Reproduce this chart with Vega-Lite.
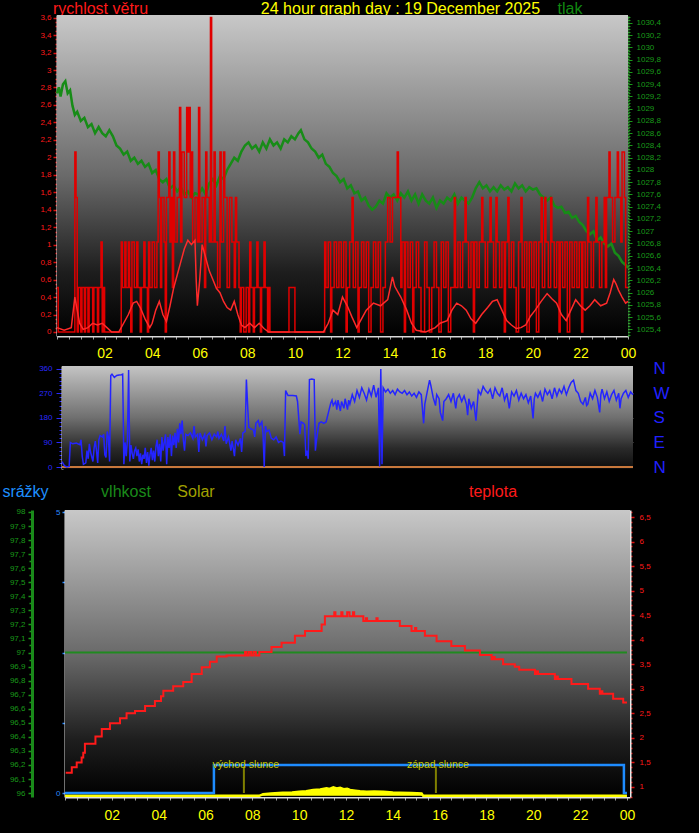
{
"$schema": "https://vega.github.io/schema/vega-lite/v6.json",
"background": "#000000",
"autosize": "none",
"padding": {"left": 57, "top": 15, "right": 642, "bottom": 818},
"bounds": "flush",
"spacing": 30,
"config": {"view": {"stroke": null}, "font": "Liberation Sans", "axis": {"zindex": 1, "labelFont": "Liberation Sans", "titleFont": "Liberation Sans", "titleFontWeight": "normal", "labelOverlap": false, "labelBound": false, "labelFlush": false}},
"datasets": {
"gust": [{"h":0,"v":0.51},{"h":0.05,"v":0},{"h":0.75,"v":2.06},{"h":0.8,"v":1.54},{"h":0.85,"v":0},{"h":0.9,"v":0.51},{"h":1,"v":0},{"h":1.05,"v":0.51},{"h":1.15,"v":0},{"h":1.2,"v":0.51},{"h":1.3,"v":0},{"h":1.35,"v":0.51},{"h":1.5,"v":0},{"h":1.55,"v":0.51},{"h":1.7,"v":0},{"h":1.75,"v":0.51},{"h":1.85,"v":1.03},{"h":1.9,"v":0},{"h":1.95,"v":0.51},{"h":2,"v":0},{"h":2.7,"v":1.03},{"h":2.75,"v":0.51},{"h":2.85,"v":1.03},{"h":2.9,"v":0.51},{"h":3,"v":1.03},{"h":3.05,"v":0.51},{"h":3.1,"v":0},{"h":3.15,"v":1.03},{"h":3.25,"v":0.51},{"h":3.35,"v":1.03},{"h":3.4,"v":0.51},{"h":3.5,"v":0},{"h":3.55,"v":0.51},{"h":3.65,"v":1.03},{"h":3.7,"v":0.51},{"h":3.8,"v":0},{"h":3.85,"v":1.03},{"h":3.9,"v":0.51},{"h":4,"v":1.03},{"h":4.1,"v":0.51},{"h":4.2,"v":1.03},{"h":4.25,"v":2.06},{"h":4.3,"v":1.54},{"h":4.35,"v":0.51},{"h":4.4,"v":1.54},{"h":4.5,"v":1.03},{"h":4.55,"v":0},{"h":4.6,"v":1.54},{"h":4.7,"v":2.06},{"h":4.75,"v":1.03},{"h":4.8,"v":1.54},{"h":4.85,"v":0.51},{"h":4.9,"v":2.06},{"h":4.95,"v":1.03},{"h":5.05,"v":1.54},{"h":5.15,"v":2.57},{"h":5.2,"v":1.03},{"h":5.25,"v":2.06},{"h":5.35,"v":1.54},{"h":5.45,"v":2.57},{"h":5.5,"v":2.06},{"h":5.55,"v":2.57},{"h":5.6,"v":1.54},{"h":5.65,"v":2.06},{"h":5.7,"v":1.03},{"h":5.8,"v":1.54},{"h":5.9,"v":1.03},{"h":5.95,"v":2.57},{"h":6,"v":1.03},{"h":6.1,"v":1.54},{"h":6.2,"v":0.51},{"h":6.25,"v":2.06},{"h":6.3,"v":1.54},{"h":6.4,"v":1.03},{"h":6.45,"v":3.6},{"h":6.5,"v":1.03},{"h":6.6,"v":2.06},{"h":6.65,"v":1.03},{"h":6.75,"v":0.51},{"h":6.85,"v":2.06},{"h":6.9,"v":1.03},{"h":7,"v":2.06},{"h":7.05,"v":1.54},{"h":7.15,"v":0.51},{"h":7.25,"v":1.54},{"h":7.35,"v":1.03},{"h":7.45,"v":0.51},{"h":7.5,"v":1.54},{"h":7.55,"v":1.03},{"h":7.65,"v":0.51},{"h":7.7,"v":0},{"h":7.75,"v":0.51},{"h":7.85,"v":0},{"h":7.95,"v":0.51},{"h":8.05,"v":0},{"h":8.1,"v":1.03},{"h":8.15,"v":0.51},{"h":8.25,"v":0},{"h":8.3,"v":0.51},{"h":8.4,"v":1.03},{"h":8.45,"v":0.51},{"h":8.55,"v":0},{"h":8.6,"v":0.51},{"h":8.7,"v":1.03},{"h":8.75,"v":0.51},{"h":8.85,"v":0},{"h":8.9,"v":0.51},{"h":8.95,"v":0},{"h":9.75,"v":0.51},{"h":10,"v":0},{"h":11.25,"v":1.03},{"h":11.3,"v":0.51},{"h":11.4,"v":1.03},{"h":11.5,"v":0},{"h":11.55,"v":0.51},{"h":11.65,"v":1.03},{"h":11.75,"v":0.51},{"h":11.85,"v":1.03},{"h":11.95,"v":0.51},{"h":12.05,"v":1.03},{"h":12.15,"v":0},{"h":12.2,"v":0.51},{"h":12.3,"v":1.03},{"h":12.4,"v":1.54},{"h":12.45,"v":0.51},{"h":12.55,"v":1.03},{"h":12.65,"v":0},{"h":12.7,"v":0.51},{"h":12.8,"v":1.03},{"h":12.9,"v":0.51},{"h":13,"v":1.03},{"h":13.1,"v":0},{"h":13.2,"v":0.51},{"h":13.3,"v":1.03},{"h":13.4,"v":0.51},{"h":13.5,"v":1.03},{"h":13.6,"v":0},{"h":13.7,"v":0.51},{"h":13.8,"v":1.03},{"h":13.9,"v":1.54},{"h":14,"v":1.03},{"h":14.1,"v":1.54},{"h":14.3,"v":2.06},{"h":14.35,"v":1.54},{"h":14.45,"v":0.51},{"h":14.5,"v":1.03},{"h":14.6,"v":0},{"h":14.65,"v":1.03},{"h":14.75,"v":0.51},{"h":14.85,"v":1.03},{"h":14.95,"v":0},{"h":15,"v":0.51},{"h":15.1,"v":1.03},{"h":15.2,"v":0.51},{"h":15.3,"v":0},{"h":15.45,"v":1.03},{"h":15.55,"v":0.51},{"h":15.65,"v":0},{"h":15.75,"v":0.51},{"h":15.85,"v":1.03},{"h":15.95,"v":0.51},{"h":16.05,"v":0},{"h":16.15,"v":1.03},{"h":16.25,"v":0.51},{"h":16.35,"v":1.03},{"h":16.45,"v":0},{"h":16.55,"v":0.51},{"h":16.7,"v":1.54},{"h":16.75,"v":0.51},{"h":16.85,"v":1.03},{"h":16.95,"v":0.51},{"h":17.05,"v":1.03},{"h":17.15,"v":1.54},{"h":17.2,"v":1.03},{"h":17.3,"v":0.51},{"h":17.4,"v":1.03},{"h":17.5,"v":0},{"h":17.55,"v":1.03},{"h":17.65,"v":0.51},{"h":17.75,"v":1.03},{"h":17.85,"v":1.54},{"h":17.9,"v":1.03},{"h":18,"v":0.51},{"h":18.1,"v":1.03},{"h":18.2,"v":1.54},{"h":18.25,"v":1.03},{"h":18.35,"v":0.51},{"h":18.45,"v":1.54},{"h":18.5,"v":1.03},{"h":18.6,"v":0.51},{"h":18.7,"v":1.03},{"h":18.8,"v":0},{"h":18.85,"v":1.03},{"h":18.95,"v":1.54},{"h":19,"v":0.51},{"h":19.1,"v":1.03},{"h":19.2,"v":0.51},{"h":19.3,"v":0},{"h":19.4,"v":1.03},{"h":19.5,"v":1.54},{"h":19.55,"v":0.51},{"h":19.65,"v":1.03},{"h":19.75,"v":0},{"h":19.85,"v":1.03},{"h":19.95,"v":0.51},{"h":20.05,"v":1.03},{"h":20.15,"v":0},{"h":20.25,"v":1.03},{"h":20.35,"v":1.54},{"h":20.4,"v":0.51},{"h":20.5,"v":1.54},{"h":20.55,"v":1.03},{"h":20.65,"v":0.51},{"h":20.75,"v":1.54},{"h":20.8,"v":1.03},{"h":20.9,"v":0.51},{"h":21,"v":1.03},{"h":21.1,"v":0},{"h":21.15,"v":1.03},{"h":21.25,"v":0.51},{"h":21.35,"v":1.03},{"h":21.45,"v":0},{"h":21.55,"v":1.03},{"h":21.65,"v":0.51},{"h":21.75,"v":1.03},{"h":21.85,"v":0.51},{"h":21.95,"v":1.03},{"h":22.05,"v":0},{"h":22.1,"v":1.03},{"h":22.2,"v":0.51},{"h":22.3,"v":1.54},{"h":22.35,"v":1.03},{"h":22.45,"v":0.51},{"h":22.55,"v":1.03},{"h":22.65,"v":1.54},{"h":22.7,"v":1.03},{"h":22.8,"v":0.51},{"h":22.9,"v":1.03},{"h":23,"v":1.54},{"h":23.05,"v":0.51},{"h":23.1,"v":1.54},{"h":23.2,"v":2.06},{"h":23.25,"v":1.54},{"h":23.35,"v":1.03},{"h":23.45,"v":1.54},{"h":23.55,"v":2.06},{"h":23.6,"v":1.54},{"h":23.7,"v":1.03},{"h":23.75,"v":2.06},{"h":23.85,"v":1.54},{"h":23.9,"v":0.51},{"h":24,"v":0.51}],
"avg": [{"h":0,"v":0.05},{"h":0.3,"v":0.02},{"h":0.6,"v":0.05},{"h":0.75,"v":0.4},{"h":0.85,"v":0.25},{"h":0.95,"v":0.1},{"h":1.1,"v":0.03},{"h":1.3,"v":0.05},{"h":1.5,"v":0.1},{"h":1.7,"v":0.08},{"h":1.9,"v":0.1},{"h":2.1,"v":0.05},{"h":2.3,"v":0},{"h":2.6,"v":0},{"h":2.8,"v":0.1},{"h":3,"v":0.2},{"h":3.2,"v":0.33},{"h":3.35,"v":0.35},{"h":3.5,"v":0.28},{"h":3.7,"v":0.15},{"h":3.9,"v":0.05},{"h":4,"v":0.1},{"h":4.15,"v":0.25},{"h":4.3,"v":0.35},{"h":4.45,"v":0.2},{"h":4.6,"v":0.12},{"h":4.75,"v":0.3},{"h":4.9,"v":0.5},{"h":5.05,"v":0.65},{"h":5.2,"v":0.8},{"h":5.35,"v":0.95},{"h":5.5,"v":1.05},{"h":5.65,"v":1},{"h":5.8,"v":1.05},{"h":5.85,"v":0.6},{"h":5.9,"v":0.3},{"h":6,"v":0.6},{"h":6.1,"v":1},{"h":6.25,"v":0.85},{"h":6.4,"v":0.7},{"h":6.55,"v":0.6},{"h":6.7,"v":0.5},{"h":6.85,"v":0.45},{"h":7,"v":0.35},{"h":7.15,"v":0.28},{"h":7.3,"v":0.25},{"h":7.45,"v":0.35},{"h":7.6,"v":0.2},{"h":7.75,"v":0.08},{"h":7.9,"v":0.05},{"h":8.1,"v":0.1},{"h":8.3,"v":0.05},{"h":8.5,"v":0.1},{"h":8.7,"v":0.04},{"h":8.9,"v":0},{"h":11.2,"v":0},{"h":11.4,"v":0.1},{"h":11.6,"v":0.25},{"h":11.8,"v":0.2},{"h":12,"v":0.4},{"h":12.2,"v":0.3},{"h":12.4,"v":0.17},{"h":12.6,"v":0.05},{"h":12.8,"v":0.15},{"h":13,"v":0.25},{"h":13.3,"v":0.33},{"h":13.6,"v":0.3},{"h":13.9,"v":0.37},{"h":14.1,"v":0.63},{"h":14.2,"v":0.52},{"h":14.45,"v":0.4},{"h":14.7,"v":0.25},{"h":14.9,"v":0.1},{"h":15.1,"v":0.02},{"h":15.5,"v":0},{"h":15.9,"v":0.05},{"h":16.1,"v":0.1},{"h":16.4,"v":0.13},{"h":16.6,"v":0.25},{"h":16.8,"v":0.33},{"h":17,"v":0.3},{"h":17.2,"v":0.25},{"h":17.4,"v":0.15},{"h":17.6,"v":0.1},{"h":17.85,"v":0.2},{"h":18.1,"v":0.28},{"h":18.3,"v":0.35},{"h":18.5,"v":0.37},{"h":18.7,"v":0.25},{"h":18.9,"v":0.13},{"h":19.1,"v":0.08},{"h":19.3,"v":0.04},{"h":19.5,"v":0.05},{"h":19.7,"v":0.08},{"h":19.9,"v":0.18},{"h":20.1,"v":0.25},{"h":20.35,"v":0.35},{"h":20.6,"v":0.44},{"h":20.8,"v":0.38},{"h":21,"v":0.33},{"h":21.2,"v":0.2},{"h":21.4,"v":0.13},{"h":21.6,"v":0.25},{"h":21.8,"v":0.37},{"h":22,"v":0.3},{"h":22.2,"v":0.25},{"h":22.4,"v":0.3},{"h":22.6,"v":0.37},{"h":22.85,"v":0.3},{"h":23.1,"v":0.33},{"h":23.25,"v":0.45},{"h":23.4,"v":0.6},{"h":23.5,"v":0.55},{"h":23.6,"v":0.48},{"h":23.75,"v":0.4},{"h":23.9,"v":0.33},{"h":24,"v":0.35}],
"press": [{"h":0,"p":1029.25},{"h":0.08,"p":1029.35},{"h":0.15,"p":1029.2},{"h":0.25,"p":1029.4},{"h":0.35,"p":1029.45},{"h":0.45,"p":1029.25},{"h":0.55,"p":1029.3},{"h":0.65,"p":1029.05},{"h":0.75,"p":1028.9},{"h":0.85,"p":1028.95},{"h":1,"p":1028.8},{"h":1.15,"p":1028.85},{"h":1.3,"p":1028.7},{"h":1.45,"p":1028.75},{"h":1.6,"p":1028.6},{"h":1.75,"p":1028.7},{"h":1.9,"p":1028.6},{"h":2.05,"p":1028.55},{"h":2.2,"p":1028.65},{"h":2.35,"p":1028.55},{"h":2.5,"p":1028.4},{"h":2.65,"p":1028.35},{"h":2.8,"p":1028.25},{"h":2.95,"p":1028.3},{"h":3.1,"p":1028.15},{"h":3.25,"p":1028.2},{"h":3.4,"p":1028.1},{"h":3.55,"p":1028.15},{"h":3.7,"p":1028.05},{"h":3.85,"p":1028.1},{"h":4,"p":1027.95},{"h":4.15,"p":1028},{"h":4.3,"p":1027.85},{"h":4.45,"p":1027.8},{"h":4.6,"p":1027.85},{"h":4.75,"p":1027.7},{"h":4.9,"p":1027.75},{"h":5.05,"p":1027.65},{"h":5.2,"p":1027.72},{"h":5.35,"p":1027.6},{"h":5.5,"p":1027.65},{"h":5.65,"p":1027.55},{"h":5.8,"p":1027.62},{"h":5.95,"p":1027.6},{"h":6.1,"p":1027.7},{"h":6.25,"p":1027.6},{"h":6.4,"p":1027.78},{"h":6.55,"p":1027.85},{"h":6.7,"p":1027.75},{"h":6.85,"p":1027.9},{"h":7,"p":1027.85},{"h":7.15,"p":1028},{"h":7.3,"p":1028.1},{"h":7.45,"p":1028.2},{"h":7.6,"p":1028.15},{"h":7.75,"p":1028.3},{"h":7.9,"p":1028.4},{"h":8.05,"p":1028.45},{"h":8.2,"p":1028.35},{"h":8.35,"p":1028.4},{"h":8.5,"p":1028.3},{"h":8.65,"p":1028.45},{"h":8.8,"p":1028.35},{"h":8.95,"p":1028.5},{"h":9.1,"p":1028.4},{"h":9.25,"p":1028.45},{"h":9.4,"p":1028.35},{"h":9.55,"p":1028.5},{"h":9.7,"p":1028.45},{"h":9.85,"p":1028.55},{"h":10,"p":1028.5},{"h":10.15,"p":1028.6},{"h":10.25,"p":1028.65},{"h":10.4,"p":1028.5},{"h":10.55,"p":1028.45},{"h":10.7,"p":1028.35},{"h":10.85,"p":1028.3},{"h":11,"p":1028.2},{"h":11.15,"p":1028.25},{"h":11.3,"p":1028.1},{"h":11.45,"p":1028.05},{"h":11.6,"p":1027.95},{"h":11.75,"p":1027.9},{"h":11.9,"p":1027.8},{"h":12.05,"p":1027.85},{"h":12.2,"p":1027.7},{"h":12.35,"p":1027.75},{"h":12.5,"p":1027.62},{"h":12.65,"p":1027.65},{"h":12.8,"p":1027.5},{"h":12.95,"p":1027.55},{"h":13.1,"p":1027.42},{"h":13.25,"p":1027.35},{"h":13.4,"p":1027.4},{"h":13.55,"p":1027.5},{"h":13.7,"p":1027.45},{"h":13.85,"p":1027.62},{"h":14,"p":1027.55},{"h":14.15,"p":1027.6},{"h":14.3,"p":1027.5},{"h":14.45,"p":1027.62},{"h":14.6,"p":1027.55},{"h":14.75,"p":1027.65},{"h":14.9,"p":1027.5},{"h":15.05,"p":1027.6},{"h":15.2,"p":1027.45},{"h":15.35,"p":1027.6},{"h":15.5,"p":1027.5},{"h":15.65,"p":1027.45},{"h":15.8,"p":1027.55},{"h":15.95,"p":1027.38},{"h":16.1,"p":1027.5},{"h":16.25,"p":1027.45},{"h":16.4,"p":1027.55},{"h":16.55,"p":1027.5},{"h":16.7,"p":1027.6},{"h":16.85,"p":1027.45},{"h":17,"p":1027.55},{"h":17.15,"p":1027.5},{"h":17.3,"p":1027.45},{"h":17.45,"p":1027.55},{"h":17.6,"p":1027.7},{"h":17.75,"p":1027.8},{"h":17.9,"p":1027.7},{"h":18.05,"p":1027.75},{"h":18.2,"p":1027.65},{"h":18.35,"p":1027.72},{"h":18.5,"p":1027.65},{"h":18.65,"p":1027.75},{"h":18.8,"p":1027.68},{"h":18.95,"p":1027.72},{"h":19.1,"p":1027.65},{"h":19.25,"p":1027.78},{"h":19.4,"p":1027.7},{"h":19.55,"p":1027.75},{"h":19.7,"p":1027.65},{"h":19.85,"p":1027.72},{"h":20,"p":1027.68},{"h":20.15,"p":1027.7},{"h":20.3,"p":1027.6},{"h":20.45,"p":1027.55},{"h":20.6,"p":1027.5},{"h":20.75,"p":1027.55},{"h":20.9,"p":1027.42},{"h":21.05,"p":1027.38},{"h":21.2,"p":1027.4},{"h":21.35,"p":1027.3},{"h":21.5,"p":1027.32},{"h":21.65,"p":1027.22},{"h":21.8,"p":1027.25},{"h":21.95,"p":1027.15},{"h":22.1,"p":1027.1},{"h":22.25,"p":1027},{"h":22.4,"p":1026.95},{"h":22.55,"p":1027},{"h":22.7,"p":1026.85},{"h":22.85,"p":1026.9},{"h":23,"p":1026.8},{"h":23.15,"p":1026.75},{"h":23.3,"p":1026.8},{"h":23.45,"p":1026.65},{"h":23.6,"p":1026.6},{"h":23.75,"p":1026.5},{"h":23.9,"p":1026.45},{"h":24,"p":1026.4}],
"dir": [{"h":0,"d":20},{"h":0.1,"d":5},{"h":0.2,"d":0},{"h":0.3,"d":2},{"h":0.35,"d":90},{"h":0.45,"d":85},{"h":0.6,"d":88},{"h":0.75,"d":82},{"h":0.8,"d":100},{"h":0.85,"d":40},{"h":0.9,"d":10},{"h":1,"d":15},{"h":1.05,"d":60},{"h":1.1,"d":30},{"h":1.15,"d":85},{"h":1.2,"d":55},{"h":1.3,"d":20},{"h":1.35,"d":70},{"h":1.4,"d":95},{"h":1.45,"d":60},{"h":1.5,"d":15},{"h":1.55,"d":100},{"h":1.6,"d":115},{"h":1.7,"d":110},{"h":1.75,"d":120},{"h":1.8,"d":45},{"h":1.85,"d":35},{"h":1.9,"d":130},{"h":1.95,"d":110},{"h":2,"d":20},{"h":2.05,"d":335},{"h":2.1,"d":340},{"h":2.2,"d":328},{"h":2.3,"d":335},{"h":2.4,"d":337},{"h":2.5,"d":338},{"h":2.55,"d":340},{"h":2.6,"d":10},{"h":2.65,"d":90},{"h":2.7,"d":40},{"h":2.75,"d":100},{"h":2.8,"d":355},{"h":2.85,"d":20},{"h":2.9,"d":80},{"h":2.95,"d":50},{"h":3,"d":30},{"h":3.05,"d":60},{"h":3.1,"d":70},{"h":3.15,"d":40},{"h":3.2,"d":65},{"h":3.25,"d":20},{"h":3.3,"d":50},{"h":3.35,"d":10},{"h":3.4,"d":45},{"h":3.45,"d":30},{"h":3.5,"d":70},{"h":3.55,"d":15},{"h":3.6,"d":55},{"h":3.65,"d":5},{"h":3.7,"d":45},{"h":3.75,"d":70},{"h":3.8,"d":25},{"h":3.85,"d":60},{"h":3.9,"d":20},{"h":3.95,"d":75},{"h":4,"d":100},{"h":4.05,"d":40},{"h":4.1,"d":85},{"h":4.15,"d":20},{"h":4.2,"d":110},{"h":4.25,"d":60},{"h":4.3,"d":90},{"h":4.35,"d":120},{"h":4.4,"d":10},{"h":4.45,"d":110},{"h":4.5,"d":70},{"h":4.55,"d":120},{"h":4.6,"d":40},{"h":4.65,"d":115},{"h":4.7,"d":80},{"h":4.75,"d":125},{"h":4.8,"d":70},{"h":4.85,"d":140},{"h":4.9,"d":90},{"h":4.95,"d":160},{"h":5,"d":120},{"h":5.05,"d":170},{"h":5.1,"d":100},{"h":5.15,"d":60},{"h":5.2,"d":120},{"h":5.3,"d":115},{"h":5.4,"d":125},{"h":5.5,"d":105},{"h":5.55,"d":150},{"h":5.6,"d":110},{"h":5.7,"d":120},{"h":5.75,"d":55},{"h":5.8,"d":125},{"h":5.9,"d":100},{"h":6,"d":120},{"h":6.05,"d":75},{"h":6.1,"d":115},{"h":6.2,"d":125},{"h":6.3,"d":100},{"h":6.4,"d":120},{"h":6.5,"d":110},{"h":6.55,"d":130},{"h":6.6,"d":105},{"h":6.7,"d":120},{"h":6.8,"d":95},{"h":6.85,"d":150},{"h":6.9,"d":85},{"h":7,"d":110},{"h":7.1,"d":60},{"h":7.15,"d":95},{"h":7.25,"d":40},{"h":7.3,"d":100},{"h":7.4,"d":80},{"h":7.5,"d":105},{"h":7.55,"d":55},{"h":7.6,"d":125},{"h":7.7,"d":130},{"h":7.75,"d":320},{"h":7.8,"d":230},{"h":7.85,"d":145},{"h":7.95,"d":140},{"h":8.05,"d":135},{"h":8.1,"d":110},{"h":8.15,"d":160},{"h":8.25,"d":170},{"h":8.3,"d":150},{"h":8.4,"d":165},{"h":8.45,"d":120},{"h":8.5,"d":0},{"h":8.55,"d":150},{"h":8.6,"d":130},{"h":8.7,"d":135},{"h":8.8,"d":105},{"h":8.9,"d":100},{"h":9,"d":110},{"h":9.1,"d":90},{"h":9.2,"d":95},{"h":9.3,"d":90},{"h":9.35,"d":40},{"h":9.4,"d":280},{"h":9.5,"d":262},{"h":9.7,"d":262},{"h":9.85,"d":260},{"h":9.9,"d":240},{"h":10,"d":120},{"h":10.05,"d":165},{"h":10.15,"d":160},{"h":10.2,"d":155},{"h":10.25,"d":40},{"h":10.3,"d":60},{"h":10.35,"d":30},{"h":10.4,"d":320},{"h":10.5,"d":322},{"h":10.6,"d":320},{"h":10.65,"d":60},{"h":10.7,"d":100},{"h":10.8,"d":160},{"h":10.9,"d":165},{"h":11,"d":160},{"h":11.1,"d":165},{"h":11.2,"d":200},{"h":11.3,"d":235},{"h":11.35,"d":245},{"h":11.4,"d":225},{"h":11.5,"d":240},{"h":11.55,"d":210},{"h":11.6,"d":245},{"h":11.7,"d":205},{"h":11.75,"d":240},{"h":11.85,"d":215},{"h":11.9,"d":250},{"h":12,"d":210},{"h":12.05,"d":245},{"h":12.1,"d":230},{"h":12.2,"d":265},{"h":12.3,"d":240},{"h":12.4,"d":280},{"h":12.5,"d":255},{"h":12.6,"d":290},{"h":12.7,"d":270},{"h":12.8,"d":245},{"h":12.9,"d":285},{"h":13,"d":260},{"h":13.1,"d":300},{"h":13.2,"d":255},{"h":13.3,"d":290},{"h":13.35,"d":2},{"h":13.4,"d":359},{"h":13.45,"d":10},{"h":13.5,"d":290},{"h":13.6,"d":275},{"h":13.7,"d":285},{"h":13.8,"d":270},{"h":13.9,"d":280},{"h":14,"d":265},{"h":14.1,"d":285},{"h":14.2,"d":275},{"h":14.3,"d":270},{"h":14.4,"d":280},{"h":14.5,"d":265},{"h":14.6,"d":275},{"h":14.7,"d":260},{"h":14.8,"d":270},{"h":14.9,"d":255},{"h":15,"d":275},{"h":15.1,"d":265},{"h":15.2,"d":160},{"h":15.25,"d":230},{"h":15.35,"d":275},{"h":15.45,"d":318},{"h":15.5,"d":300},{"h":15.6,"d":255},{"h":15.7,"d":225},{"h":15.75,"d":265},{"h":15.85,"d":250},{"h":15.9,"d":200},{"h":16,"d":170},{"h":16.05,"d":240},{"h":16.15,"d":250},{"h":16.25,"d":265},{"h":16.35,"d":240},{"h":16.45,"d":270},{"h":16.55,"d":215},{"h":16.6,"d":250},{"h":16.7,"d":265},{"h":16.8,"d":240},{"h":16.9,"d":260},{"h":17,"d":230},{"h":17.05,"d":190},{"h":17.1,"d":250},{"h":17.2,"d":215},{"h":17.3,"d":240},{"h":17.4,"d":170},{"h":17.5,"d":280},{"h":17.6,"d":265},{"h":17.7,"d":295},{"h":17.8,"d":280},{"h":17.9,"d":270},{"h":18,"d":285},{"h":18.1,"d":250},{"h":18.2,"d":290},{"h":18.3,"d":270},{"h":18.4,"d":260},{"h":18.5,"d":290},{"h":18.6,"d":245},{"h":18.7,"d":270},{"h":18.8,"d":215},{"h":18.9,"d":275},{"h":19,"d":260},{"h":19.1,"d":280},{"h":19.2,"d":245},{"h":19.3,"d":270},{"h":19.4,"d":250},{"h":19.5,"d":265},{"h":19.6,"d":235},{"h":19.7,"d":260},{"h":19.8,"d":178},{"h":19.85,"d":250},{"h":19.9,"d":270},{"h":20,"d":255},{"h":20.1,"d":275},{"h":20.2,"d":240},{"h":20.3,"d":285},{"h":20.4,"d":265},{"h":20.5,"d":280},{"h":20.6,"d":250},{"h":20.7,"d":290},{"h":20.8,"d":260},{"h":20.9,"d":285},{"h":21,"d":270},{"h":21.1,"d":295},{"h":21.2,"d":265},{"h":21.3,"d":290},{"h":21.4,"d":310},{"h":21.5,"d":318},{"h":21.6,"d":280},{"h":21.7,"d":270},{"h":21.8,"d":240},{"h":21.9,"d":230},{"h":22,"d":255},{"h":22.05,"d":225},{"h":22.1,"d":230},{"h":22.2,"d":270},{"h":22.3,"d":250},{"h":22.4,"d":280},{"h":22.5,"d":255},{"h":22.6,"d":200},{"h":22.65,"d":265},{"h":22.7,"d":285},{"h":22.8,"d":250},{"h":22.9,"d":275},{"h":23,"d":240},{"h":23.1,"d":265},{"h":23.2,"d":280},{"h":23.3,"d":245},{"h":23.4,"d":270},{"h":23.45,"d":215},{"h":23.5,"d":250},{"h":23.6,"d":270},{"h":23.7,"d":280},{"h":23.8,"d":255},{"h":23.9,"d":275},{"h":24,"d":265}],
"temp": [{"h":0.03,"t":1.29},{"h":0.29,"t":1.4},{"h":0.5,"t":1.5},{"h":0.71,"t":1.6},{"h":0.78,"t":1.7},{"h":0.85,"t":1.88},{"h":1.3,"t":2.03},{"h":1.57,"t":2.18},{"h":1.92,"t":2.3},{"h":2.35,"t":2.4},{"h":2.63,"t":2.5},{"h":2.99,"t":2.55},{"h":3.42,"t":2.65},{"h":3.84,"t":2.75},{"h":4.1,"t":2.85},{"h":4.2,"t":2.96},{"h":4.62,"t":3.05},{"h":5.05,"t":3.14},{"h":5.41,"t":3.3},{"h":5.84,"t":3.44},{"h":6.19,"t":3.55},{"h":6.48,"t":3.66},{"h":6.9,"t":3.68},{"h":7.69,"t":3.75},{"h":7.75,"t":3.68},{"h":7.85,"t":3.75},{"h":7.95,"t":3.68},{"h":8.05,"t":3.75},{"h":8.15,"t":3.68},{"h":8.3,"t":3.75},{"h":8.82,"t":3.85},{"h":9.25,"t":3.94},{"h":9.82,"t":4.08},{"h":10.25,"t":4.18},{"h":10.96,"t":4.31},{"h":11.1,"t":4.48},{"h":11.5,"t":4.56},{"h":11.55,"t":4.48},{"h":11.8,"t":4.56},{"h":11.85,"t":4.48},{"h":12.05,"t":4.56},{"h":12.15,"t":4.48},{"h":12.3,"t":4.56},{"h":12.35,"t":4.48},{"h":12.74,"t":4.38},{"h":12.85,"t":4.44},{"h":12.9,"t":4.38},{"h":13.3,"t":4.44},{"h":13.35,"t":4.38},{"h":14.3,"t":4.28},{"h":14.8,"t":4.18},{"h":14.95,"t":4.24},{"h":15,"t":4.18},{"h":15.37,"t":4.08},{"h":15.87,"t":3.97},{"h":16.5,"t":3.87},{"h":17.08,"t":3.78},{"h":17.72,"t":3.69},{"h":18.22,"t":3.6},{"h":18.3,"t":3.65},{"h":18.35,"t":3.6},{"h":18.71,"t":3.5},{"h":19.21,"t":3.45},{"h":19.4,"t":3.39},{"h":20.07,"t":3.3},{"h":20.12,"t":3.36},{"h":20.2,"t":3.3},{"h":20.92,"t":3.2},{"h":21,"t":3.25},{"h":21.05,"t":3.2},{"h":21.63,"t":3.1},{"h":22.34,"t":3},{"h":22.84,"t":2.9},{"h":22.9,"t":2.95},{"h":22.95,"t":2.9},{"h":23.41,"t":2.8},{"h":23.84,"t":2.72},{"h":24,"t":2.72}],
"rain": [{"h":0,"r":0},{"h":6.36,"r":0.5},{"h":23.87,"r":0},{"h":24,"r":0}],
"hum": [{"h":0,"u":97},{"h":24,"u":97}],
"solar": [{"h":0,"s":0},{"h":8.3,"s":0},{"h":8.46,"s":3},{"h":8.8,"s":4},{"h":9.3,"s":5.5},{"h":9.7,"s":6},{"h":10,"s":7.3},{"h":10.3,"s":8},{"h":10.6,"s":10.3},{"h":10.9,"s":11},{"h":11.17,"s":13.3},{"h":11.3,"s":12},{"h":11.46,"s":15},{"h":11.6,"s":13},{"h":11.75,"s":14},{"h":11.9,"s":11.5},{"h":12.05,"s":12.5},{"h":12.17,"s":10.3},{"h":12.4,"s":9},{"h":12.6,"s":8},{"h":12.88,"s":7.3},{"h":13.2,"s":7.5},{"h":13.6,"s":7.3},{"h":14,"s":6},{"h":14.3,"s":5.6},{"h":14.8,"s":5},{"h":15.23,"s":4},{"h":15.3,"s":0},{"h":24,"s":0}],
"sun": [{"h":7.64,"label":"východ slunce"},{"h":15.84,"label":"západ slunce"}]
},
"vconcat": [
{
"width": 571, "height": 321,
"resolve": {"scale": {"y": "independent"}, "axis": {"x": "independent"}},
"layer": [
{"data": {"values": [{}]}, "mark": {"type": "rect", "fill": {"gradient": "linear", "x1": 0, "y1": 0, "x2": 0, "y2": 1, "stops": [{"offset": 0, "color": "#c8c8c8"}, {"offset": 0.5, "color": "#6a6a6a"}, {"offset": 0.8, "color": "#1e1e1e"}, {"offset": 1, "color": "#000000"}]}},
 "encoding": {"x": {"datum": 0, "type": "quantitative", "scale": {"domain": [0, 24], "nice": false, "zero": false}, "axis": null}, "x2": {"datum": 24}, "y": {"datum": 0, "type": "quantitative", "scale": {"domain": [0, 1]}, "axis": null}, "y2": {"datum": 1}}},
{"data": {"name": "press"}, "mark": {"type": "line", "color": "#178c17", "strokeWidth": 2.5},
 "encoding": {"x": {"field": "h", "type": "quantitative", "scale": {"domain": [0, 24], "nice": false, "zero": false}, "axis": null},
  "y": {"field": "p", "type": "quantitative", "scale": {"domain": [1025.29, 1030.53], "nice": false, "zero": false},
   "axis": {"orient": "right", "tickCount": 105, "labelExpr": "abs(datum.value*5 - round(datum.value*5)) < 0.001 ? replace(format(datum.value, '.1~f'), '.', ',') : ''", "labelColor": "#1a9a1a", "labelFontSize": 8, "labelPadding": 4, "tickColor": "#1a9a1a", "tickSize": {"condition": {"test": "abs(datum.value*5 - round(datum.value*5)) < 0.001", "value": 4}, "value": 2}, "domainColor": "#3aa03a", "domainWidth": 2, "domainDash": [2, 1], "grid": false, "title": "tlak", "titleAngle": 0, "titleX": -58.5, "titleY": -2, "titleAlign": "center", "titleBaseline": "alphabetic", "titleColor": "#118811", "titleFontSize": 16}}}},
{"data": {"name": "gust"}, "mark": {"type": "line", "color": "#e00000", "strokeWidth": 1.5, "interpolate": "step-after"},
 "encoding": {"x": {"field": "h", "type": "quantitative", "scale": {"domain": [0, 24], "nice": false, "zero": false},
   "axis": {"orient": "bottom", "tickCount": 48, "labelExpr": "datum.value > 0 && datum.value % 2 == 0 ? (datum.value == 24 ? '00' : (datum.value < 10 ? '0' + datum.value : '' + datum.value)) : ''", "labelColor": "#ffff00", "labelFontSize": 14, "labelPadding": 7, "tickSize": 3, "tickColor": "#a0a0a0", "domainColor": "#d8d8d8", "domainWidth": 2, "grid": true, "gridColor": "#d8d8d8", "gridDash": [1, 2], "gridOpacity": {"condition": {"test": "datum.value % 2 == 0 && datum.value > 0 && datum.value < 24", "value": 0.6}, "value": 0}, "title": null}},
  "y": {"field": "v", "type": "quantitative", "scale": {"domain": [-0.046, 3.63], "nice": false, "zero": false},
   "axis": {"orient": "left", "tickCount": 74, "labelExpr": "abs(datum.value*5 - round(datum.value*5)) < 0.001 ? replace(format(datum.value, '.1~f'), '.', ',') : ''", "labelColor": "#ff1a1a", "labelFontSize": 8, "labelPadding": 2, "tickColor": "#e01010", "tickWidth": 1.5, "tickSize": {"condition": {"test": "abs(datum.value*5 - round(datum.value*5)) < 0.001", "value": 4}, "value": 2}, "domainColor": "#e0e0e0", "domainWidth": 2, "grid": true, "gridColor": "#d8d8d8", "gridDash": [1, 2], "gridOpacity": {"condition": {"test": "abs(datum.value*5 - round(datum.value*5)) < 0.001", "value": 0.5}, "value": 0}, "title": "rychlost větru", "titleAngle": 0, "titleX": 43, "titleY": -2, "titleAlign": "center", "titleBaseline": "alphabetic", "titleColor": "#ff1a1a", "titleFontSize": 16}}}},
{"data": {"name": "avg"}, "mark": {"type": "line", "color": "#ff2a2a", "strokeWidth": 1.5},
 "encoding": {"x": {"field": "h", "type": "quantitative", "scale": {"domain": [0, 24], "nice": false, "zero": false},
   "axis": {"orient": "top", "domain": false, "ticks": false, "labels": false, "grid": false, "title": "24 hour graph day : 19 December 2025", "titleX": 343, "titleY": -2, "titleAlign": "center", "titleBaseline": "alphabetic", "titleColor": "#ffff00", "titleFontSize": 16, "titleAngle": 0}},
  "y": {"field": "v", "type": "quantitative", "scale": {"domain": [-0.046, 3.63], "nice": false, "zero": false}, "axis": null}}}
]
},
{
"width": 576, "height": 114,
"resolve": {"scale": {"y": "independent"}},
"layer": [
{"data": {"values": [{}]}, "mark": {"type": "rect", "fill": {"gradient": "linear", "x1": 0, "y1": 0, "x2": 0, "y2": 1, "stops": [{"offset": 0, "color": "#c4c4c4"}, {"offset": 0.5, "color": "#707070"}, {"offset": 0.8, "color": "#2a2a2a"}, {"offset": 1, "color": "#0c0c0c"}]}},
 "encoding": {"x": {"datum": 0, "type": "quantitative", "scale": {"domain": [0, 24], "range": [5, 576], "nice": false, "zero": false}, "axis": null}, "x2": {"datum": 24}, "y": {"datum": 0, "type": "quantitative", "scale": {"domain": [0, 1], "range": [103, 0]}, "axis": null}, "y2": {"datum": 1}}},
{"data": {"values": [{}]}, "mark": {"type": "rule", "color": "#c8783c", "strokeWidth": 2},
 "encoding": {"x": {"datum": 0, "type": "quantitative", "scale": {"domain": [0, 24], "range": [5, 576], "nice": false, "zero": false}, "axis": null}, "x2": {"datum": 24},
  "y": {"datum": 0, "type": "quantitative", "scale": {"domain": [-7.3, 369.9], "range": [103, 0], "nice": false, "zero": false},
   "axis": {"orient": "right", "values": [0, 90, 180, 270, 360], "labelExpr": "datum.value == 90 ? 'E' : datum.value == 180 ? 'S' : datum.value == 270 ? 'W' : 'N'", "labelColor": "#2020ff", "labelFontSize": 17, "labelPadding": 20, "ticks": false, "tickSize": 0, "domain": false, "grid": false, "title": null}}}},
{"data": {"name": "dir"}, "mark": {"type": "line", "color": "#2424ff", "strokeWidth": 1.5},
 "encoding": {"x": {"field": "h", "type": "quantitative", "scale": {"domain": [0, 24], "range": [5, 576], "nice": false, "zero": false}, "axis": null},
  "y": {"field": "d", "type": "quantitative", "scale": {"domain": [-7.3, 369.9], "range": [103, 0], "nice": false, "zero": false},
   "axis": {"orient": "left", "offset": -5, "values": [0, 15, 30, 45, 60, 75, 90, 105, 120, 135, 150, 165, 180, 195, 210, 225, 240, 255, 270, 285, 300, 315, 330, 345, 360], "labelExpr": "datum.value % 90 == 0 ? datum.label : ''", "labelColor": "#2a2aff", "labelFontSize": 8, "labelPadding": 4, "tickColor": "#2a2aff", "tickSize": {"condition": {"test": "datum.value % 90 == 0", "value": 6}, "value": 3}, "domainColor": "#d0d0d0", "domainWidth": 2, "grid": true, "gridColor": "#d8d8d8", "gridDash": [1, 2], "gridOpacity": {"condition": {"test": "datum.value % 90 == 0 && datum.value > 0 && datum.value < 360", "value": 0.45}, "value": 0}, "title": null}}}}
]
},
{
"width": 573, "height": 287,
"resolve": {"scale": {"y": "independent"}, "axis": {"x": "independent"}},
"layer": [
{"data": {"values": [{}]}, "mark": {"type": "rect", "fill": {"gradient": "linear", "x1": 0, "y1": 0, "x2": 0, "y2": 1, "stops": [{"offset": 0, "color": "#c8c8c8"}, {"offset": 0.5, "color": "#6a6a6a"}, {"offset": 0.8, "color": "#1e1e1e"}, {"offset": 1, "color": "#000000"}]}},
 "encoding": {"x": {"datum": 0, "type": "quantitative", "scale": {"domain": [0, 24.13], "range": [8, 573], "nice": false, "zero": false}, "axis": null}, "x2": {"datum": 24.13}, "y": {"datum": 0, "type": "quantitative", "scale": {"domain": [0, 1]}, "axis": null}, "y2": {"datum": 1}}},
{"data": {"name": "solar"}, "mark": {"type": "area", "color": "#ffff00"},
 "encoding": {"x": {"field": "h", "type": "quantitative", "scale": {"domain": [0, 24.13], "range": [8, 573], "nice": false, "zero": false}, "axis": null},
  "y": {"field": "s", "type": "quantitative", "scale": {"domain": [-2, 500], "nice": false, "zero": false}, "axis": null}, "y2": {"datum": 0}}},
{"data": {"name": "solar"}, "mark": {"type": "line", "color": "#ffff00", "strokeWidth": 2.5},
 "encoding": {"x": {"field": "h", "type": "quantitative", "scale": {"domain": [0, 24.13], "range": [8, 573], "nice": false, "zero": false}, "axis": null},
  "y": {"field": "s", "type": "quantitative", "scale": {"domain": [-2, 500], "nice": false, "zero": false}, "axis": null}}},
{"data": {"name": "hum"}, "mark": {"type": "line", "color": "#208a20", "strokeWidth": 2},
 "encoding": {"x": {"field": "h", "type": "quantitative", "scale": {"domain": [0, 24.13], "range": [8, 573], "nice": false, "zero": false},
   "axis": {"orient": "bottom", "tickCount": 48, "labelExpr": "datum.value > 0 && datum.value % 2 == 0 ? (datum.value == 24 ? '00' : (datum.value < 10 ? '0' + datum.value : '' + datum.value)) : ''", "labelColor": "#ffff00", "labelFontSize": 14, "labelPadding": 8, "tickSize": 3, "tickColor": "#a0a0a0", "domainColor": "#e0e0e0", "domainWidth": 2, "grid": true, "gridColor": "#d0d0d0", "gridDash": [1, 2], "gridOpacity": {"condition": {"test": "datum.value % 2 == 0 && datum.value > 0 && datum.value < 24", "value": 0.6}, "value": 0}, "title": null}},
  "y": {"field": "u", "type": "quantitative", "scale": {"domain": [95.972, 98.014], "nice": false, "zero": false},
   "axis": {"orient": "left", "offset": 25, "tickCount": 41, "labelExpr": "abs(datum.value*10 - round(datum.value*10)) < 0.001 ? replace(format(datum.value, '.1~f'), '.', ',') : ''", "labelColor": "#1a9a1a", "labelFontSize": 8, "labelPadding": 3, "tickColor": "#1a9a1a", "tickWidth": 1.5, "tickSize": {"condition": {"test": "abs(datum.value*10 - round(datum.value*10)) < 0.001", "value": 4}, "value": 3}, "domainColor": "#1a8a1a", "domainWidth": 3, "grid": true, "gridColor": "#d0d0d0", "gridDash": [1, 2], "gridOpacity": {"condition": {"test": "abs(datum.value*10 - round(datum.value*10)) < 0.001 && datum.value > 96.05", "value": 0.45}, "value": 0}, "title": "vlhkost", "titleAngle": 0, "titleX": 93.5, "titleY": -14, "titleAlign": "center", "titleBaseline": "alphabetic", "titleColor": "#1a8a1a", "titleFontSize": 16}}}},
{"data": {"name": "rain"}, "mark": {"type": "line", "color": "#1e8cff", "strokeWidth": 2.5, "interpolate": "step-after"},
 "encoding": {"x": {"field": "h", "type": "quantitative", "scale": {"domain": [0, 24.13], "range": [8, 573], "nice": false, "zero": false},
   "axis": {"orient": "top", "domain": false, "ticks": false, "labels": false, "grid": false, "title": "Solar", "titleX": 138.5, "titleY": -14, "titleAlign": "center", "titleBaseline": "alphabetic", "titleColor": "#a0a000", "titleFontSize": 16, "titleAngle": 0}},
  "y": {"field": "r", "type": "quantitative", "scale": {"domain": [-0.071, 5.036], "nice": false, "zero": false},
   "axis": {"orient": "left", "offset": -8, "values": [0, 1.25, 2.5, 3.75, 5], "labelExpr": "datum.value == 0 || datum.value == 5 ? datum.label : ''", "labelColor": "#2a8aff", "labelFontSize": 8, "labelPadding": 2, "tickColor": "#2a8aff", "tickSize": 3, "tickWidth": 1.5, "domainColor": "#e0e0e0", "domainWidth": 2, "grid": false, "title": "srážky", "titleAngle": 0, "titleX": -40, "titleY": -14, "titleAlign": "center", "titleBaseline": "alphabetic", "titleColor": "#1e90ff", "titleFontSize": 16}}}},
{"data": {"name": "temp"}, "mark": {"type": "line", "color": "#ff1a1a", "strokeWidth": 2, "interpolate": "step-after"},
 "encoding": {"x": {"field": "h", "type": "quantitative", "scale": {"domain": [0, 24.13], "range": [8, 573], "nice": false, "zero": false}, "axis": null},
  "y": {"field": "t", "type": "quantitative", "scale": {"domain": [0.796, 6.643], "nice": false, "zero": false},
   "axis": {"orient": "right", "tickCount": 58, "labelExpr": "abs(datum.value*2 - round(datum.value*2)) < 0.001 ? replace(format(datum.value, '.1~f'), '.', ',') : ''", "labelColor": "#ff1a1a", "labelFontSize": 8, "labelPadding": 5, "tickColor": "#e01010", "tickWidth": 1.5, "tickSize": {"condition": {"test": "abs(datum.value*2 - round(datum.value*2)) < 0.001", "value": 4}, "value": 2}, "domainColor": "#e8e8e8", "domainWidth": 2, "grid": false, "title": "teplota", "titleAngle": 0, "titleX": -137.5, "titleY": -14, "titleAlign": "center", "titleBaseline": "alphabetic", "titleColor": "#ff1a1a", "titleFontSize": 16}}}},
{"data": {"name": "sun"}, "mark": {"type": "rule", "color": "#808000", "strokeWidth": 2},
 "encoding": {"x": {"field": "h", "type": "quantitative", "scale": {"domain": [0, 24.13], "range": [8, 573], "nice": false, "zero": false}, "axis": null},
  "y": {"datum": 0, "type": "quantitative", "scale": {"domain": [-0.071, 5.036], "nice": false, "zero": false}, "axis": null}, "y2": {"datum": 0.47}}},
{"data": {"name": "sun"}, "mark": {"type": "text", "color": "#c8c800", "fontSize": 10.5, "baseline": "alphabetic", "align": "center", "dx": 2},
 "encoding": {"x": {"field": "h", "type": "quantitative", "scale": {"domain": [0, 24.13], "range": [8, 573], "nice": false, "zero": false}, "axis": null},
  "y": {"datum": 0.45, "type": "quantitative", "scale": {"domain": [-0.071, 5.036], "nice": false, "zero": false}, "axis": null}, "text": {"field": "label"}}}
]
}
]
}
